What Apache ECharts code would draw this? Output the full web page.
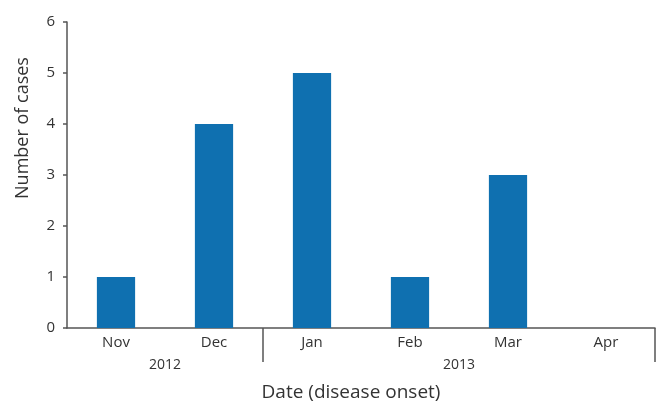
<!DOCTYPE html>
<html><head><meta charset="utf-8">
<script src="https://cdn.jsdelivr.net/npm/echarts@6/dist/echarts.min.js"></script>
<style>html,body{margin:0;padding:0;background:#fff}#c{width:662px;height:405px}</style>
</head><body><div id="c"></div>
<script>
const months = ['Nov','Dec','Jan','Feb','Mar','Apr'];
const cases = [1,4,5,1,3,0];
const years = ['2012','2013'];
const yearBounds = [2,6];      // month index where each year group ends
const yearCenters = [1,4];     // centre of each year group, in month units
const yTicks = [0,1,2,3,4,5,6];

const font = 'Open Sans';
const txt = '#333';
const axisCol = '#555';
const chart = echarts.init(document.getElementById('c'));
chart.setOption({
  animation:false,
  textStyle:{fontFamily:font},
  grid:{left:67,right:7,top:22,bottom:77,outerBoundsMode:'none',containLabel:false},
  xAxis:[{
    type:'category', data:months,
    axisLine:{lineStyle:{color:axisCol,width:1.5}},
    axisTick:{interval:0,length:17,lineStyle:{color:axisCol,width:1.5}},
    axisLabel:{color:txt,fontSize:15,margin:7,fontFamily:font}
  },{
    type:'value', min:0, max:6, position:'bottom',
    axisLine:{show:false}, splitLine:{show:false},
    axisTick:{show:true,customValues:yearBounds,length:34,lineStyle:{color:axisCol,width:1.5}},
    axisLabel:{customValues:yearCenters,color:txt,fontSize:14,margin:30,fontFamily:font,
      formatter:v=>years[yearCenters.indexOf(v)]}
  }],
  yAxis:{
    type:'value', min:0, max:6, interval:1,
    axisLine:{show:true,lineStyle:{color:axisCol,width:1.5}},
    axisTick:{show:true,length:4,lineStyle:{color:axisCol,width:1.5}},
    splitLine:{show:false},
    axisLabel:{color:txt,fontSize:15,margin:12,fontFamily:font,
      formatter:v=>yTicks.includes(v)?String(v):''}
  },
  graphic:[
    {type:'text',x:23,y:128,rotation:Math.PI/2,
      style:{text:'Number of cases',fill:txt,fontSize:18,fontFamily:font,align:'center',verticalAlign:'middle'}},
    {type:'text',x:351,y:393,
      style:{text:'Date (disease onset)',fill:txt,fontSize:19,fontFamily:font,align:'center',verticalAlign:'middle'}}
  ],
  series:[{type:'bar',data:cases,xAxisIndex:0,barWidth:'39%',
    itemStyle:{color:'#0f70b0'}}]
});
</script></body></html>
